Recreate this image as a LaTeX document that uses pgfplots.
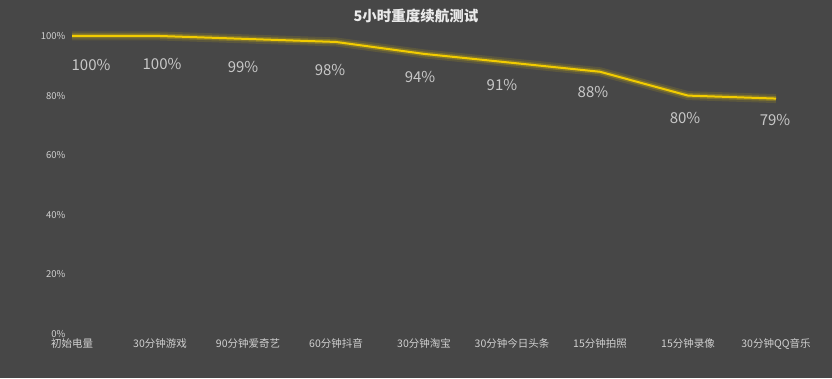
\documentclass[border=0pt]{standalone}
\usepackage{pgfplots}
\usepackage{pgfplotstable}
\pgfplotsset{compat=1.18}
\usepackage{fontspec}
\setmainfont{Noto Sans CJK SC}
\definecolor{bg}{HTML}{474747}
\definecolor{ln}{HTML}{F2CC00}
\definecolor{lbl}{HTML}{C8C8C8}
\definecolor{tck}{HTML}{D0D0D0}
\pgfplotstableread{
x y
0 100
1 100
2 99
3 98
4 94
5 91
6 88
7 80
8 79
}\bat
% label positions (placed just below each point) and texts
\pgfplotstableread{
x y lab
0.216 90.27 100
1.023 90.60 100
1.943 89.60 99
2.932 88.60 98
3.955 86.28 94
4.886 83.62 91
5.920 81.29 88
6.966 72.62 80
7.989 71.95 79
}\labs
\begin{document}
\begin{tikzpicture}[x=1bp,y=1bp]
\fill[bg] (0,0) rectangle (832,378);
\node[text=white!92!black, font=\bfseries\fontsize{14.5bp}{16bp}\selectfont] at (416,362) {5小时重度续航测试};
\begin{axis}[
  at={(72bp,44bp)}, anchor=south west,
  scale only axis, width=704bp, height=298bp,
  xmin=0, xmax=8, ymin=0, ymax=100,
  axis line style={draw=none},
  xtick={0,...,8},
  xticklabels={初始电量,30分钟游戏,90分钟爱奇艺,60分钟抖音,30分钟淘宝,30分钟今日头条,15分钟拍照,15分钟录像,30分钟QQ音乐},
  ytick={0,20,40,60,80,100},
  yticklabel={\pgfmathprintnumber{\tick}\%},
  /pgf/number format/assume math mode=true,
  tick style={draw=none},
  major tick length=0pt,
  x tick label style={font=\fontsize{10.5bp}{12bp}\selectfont, text=tck, yshift=-1bp},
  y tick label style={font=\fontsize{9.5bp}{11bp}\selectfont, text=tck, xshift=-3bp},
  clip=false,
]
\addplot[ln, opacity=0.12, line width=9bp, line join=round] table {\bat};
\addplot[ln, opacity=0.25, line width=5bp, line join=round] table {\bat};
\addplot[ln, line width=2bp, line join=round, mark=none] table {\bat};
\addplot[only marks, mark=none,
  point meta=explicit symbolic,
  nodes near coords={\pgfplotspointmeta\%},
  every node near coord/.append style={font=\fontsize{15bp}{17bp}\selectfont, text=lbl, anchor=center}]
  table[x=x,y=y,meta=lab] {\labs};
\end{axis}
\end{tikzpicture}
\end{document}
